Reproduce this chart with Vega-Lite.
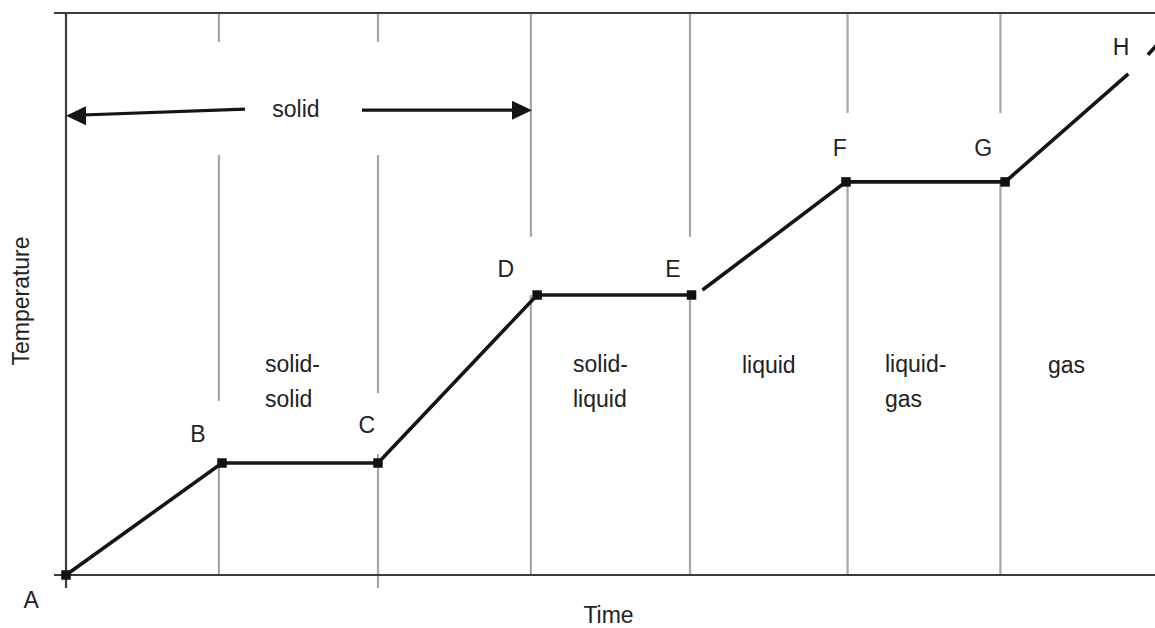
{
  "$schema": "https://vega.github.io/schema/vega-lite/v6.json",
  "width": 1101,
  "height": 575,
  "autosize": "none",
  "padding": {"left": 54, "top": 13, "right": 0, "bottom": 40},
  "background": "white",
  "config": {"view": {"stroke": null}, "font": "Liberation Sans"},
  "datasets": {
    "gray": [
      {"t": 0.98, "T": 100.36, "t2": 0.98, "T2": 95.2},
      {"t": 0.98, "T": 75.0, "t2": 0.98, "T2": 31.1},
      {"t": 0.98, "T": 20.0, "t2": 0.98, "T2": 0},
      {"t": 2.0, "T": 100.36, "t2": 2.0, "T2": 95.2},
      {"t": 2.0, "T": 75.0, "t2": 2.0, "T2": 32.5},
      {"t": 2.0, "T": 21.6, "t2": 2.0, "T2": -2.32},
      {"t": 2.98, "T": 100.36, "t2": 2.98, "T2": 60.4},
      {"t": 2.98, "T": 50.0, "t2": 2.98, "T2": 0},
      {"t": 4.0, "T": 100.36, "t2": 4.0, "T2": 60.4},
      {"t": 4.0, "T": 49.8, "t2": 4.0, "T2": 0},
      {"t": 5.01, "T": 100.36, "t2": 5.01, "T2": 82.5},
      {"t": 5.01, "T": 70.2, "t2": 5.01, "T2": 0},
      {"t": 5.99, "T": 100.36, "t2": 5.99, "T2": 82.5},
      {"t": 5.99, "T": 70.2, "t2": 5.99, "T2": 0}
    ],
    "frame": [
      {"t": 0, "T": 100.36, "t2": 0, "T2": -2.32},
      {"t": -0.077, "T": 100.36, "t2": 6.981, "T2": 100.36},
      {"t": -0.077, "T": 0, "t2": 6.981, "T2": 0}
    ],
    "shafts": [
      {"t": 1.147, "T": 83.2, "t2": 0.06, "T2": 82.1},
      {"t": 1.897, "T": 83.0, "t2": 2.87, "T2": 83.0}
    ],
    "heads": [
      {"t": 0.064, "T": 82.0, "dir": "left"},
      {"t": 2.923, "T": 83.0, "dir": "right"}
    ],
    "curve": [
      {"seg": 1, "t": 0, "T": 0},
      {"seg": 1, "t": 1.0, "T": 20},
      {"seg": 1, "t": 2.0, "T": 20},
      {"seg": 1, "t": 3.02, "T": 50},
      {"seg": 1, "t": 4.01, "T": 50},
      {"seg": 2, "t": 4.08, "T": 50.9},
      {"seg": 2, "t": 5.0, "T": 70.2},
      {"seg": 2, "t": 6.02, "T": 70.2},
      {"seg": 2, "t": 6.81, "T": 89.5},
      {"seg": 3, "t": 6.936, "T": 92.9},
      {"seg": 3, "t": 7.02, "T": 95.5}
    ],
    "vertices": [
      {"t": 0, "T": 0},
      {"t": 1.0, "T": 20},
      {"t": 2.0, "T": 20},
      {"t": 3.02, "T": 50},
      {"t": 4.01, "T": 50},
      {"t": 5.0, "T": 70.2},
      {"t": 6.02, "T": 70.2}
    ],
    "phases": [
      {"t": 1.276, "T": 36.25, "label": "solid-\nsolid"},
      {"t": 3.25, "T": 36.25, "label": "solid-\nliquid"},
      {"t": 4.333, "T": 36.07, "label": "liquid"},
      {"t": 5.25, "T": 36.25, "label": "liquid-\ngas"},
      {"t": 6.295, "T": 36.1, "label": "gas"}
    ],
    "centered": [
      {"t": 1.474, "T": 81.8, "label": "solid"},
      {"t": -0.224, "T": -5.9, "label": "A"},
      {"t": 0.846, "T": 23.75, "label": "B"},
      {"t": 1.929, "T": 25.36, "label": "C"},
      {"t": 2.82, "T": 53.2, "label": "D"},
      {"t": 3.89, "T": 53.2, "label": "E"},
      {"t": 4.96, "T": 74.8, "label": "F"},
      {"t": 5.88, "T": 74.8, "label": "G"},
      {"t": 6.763, "T": 92.9, "label": "H"}
    ]
  },
  "encoding": {
    "x": {
      "field": "t",
      "type": "quantitative",
      "scale": {"domain": [-0.077, 6.981], "nice": false, "zero": false},
      "axis": {
        "title": "Time",
        "domain": false,
        "ticks": false,
        "labels": false,
        "grid": false,
        "titleFont": "Liberation Sans",
        "titleFontSize": 23,
        "titleFontWeight": "normal",
        "titleColor": "#222222",
        "titleBaseline": "alphabetic",
        "titleX": 554,
        "titleY": 34
      }
    },
    "y": {
      "field": "T",
      "type": "quantitative",
      "scale": {"domain": [-2.32, 100.36], "nice": false, "zero": false},
      "axis": {
        "title": "Temperature",
        "domain": false,
        "ticks": false,
        "labels": false,
        "grid": false,
        "titleFont": "Liberation Sans",
        "titleFontSize": 23,
        "titleFontWeight": "normal",
        "titleColor": "#222222",
        "titleBaseline": "alphabetic",
        "titleX": -26,
        "titleY": 287.5
      }
    }
  },
  "layer": [
    {
      "data": {"name": "gray"},
      "mark": {"type": "rule", "color": "#a6a6a6", "strokeWidth": 2.2, "clip": false},
      "encoding": {"x2": {"field": "t2"}, "y2": {"field": "T2"}}
    },
    {
      "data": {"name": "frame"},
      "mark": {"type": "rule", "color": "#3c3c3c", "strokeWidth": 2.2, "clip": false},
      "encoding": {"x2": {"field": "t2"}, "y2": {"field": "T2"}}
    },
    {
      "data": {"name": "shafts"},
      "mark": {"type": "rule", "color": "#151515", "strokeWidth": 3.2, "clip": false},
      "encoding": {"x2": {"field": "t2"}, "y2": {"field": "T2"}}
    },
    {
      "data": {"name": "heads"},
      "mark": {"type": "point", "filled": true, "opacity": 1, "color": "#151515", "size": 400, "clip": false},
      "encoding": {
        "shape": {
          "field": "dir",
          "type": "nominal",
          "scale": {"domain": ["left", "right"], "range": ["M-1,0L1,-0.95L1,0.95Z", "M1,0L-1,-0.95L-1,0.95Z"]},
          "legend": null
        }
      }
    },
    {
      "data": {"name": "curve"},
      "mark": {"type": "line", "color": "#151515", "strokeWidth": 3.6, "clip": false},
      "encoding": {"detail": {"field": "seg", "type": "nominal"}}
    },
    {
      "data": {"name": "vertices"},
      "mark": {"type": "point", "shape": "square", "filled": true, "opacity": 1, "color": "#111111", "size": 90, "clip": false},
      "encoding": {}
    },
    {
      "data": {"name": "phases"},
      "mark": {"type": "text", "align": "left", "baseline": "alphabetic", "font": "Liberation Sans", "fontSize": 23, "lineHeight": 35, "lineBreak": "\n", "color": "#222222", "clip": false},
      "encoding": {"text": {"field": "label", "type": "nominal"}}
    },
    {
      "data": {"name": "centered"},
      "mark": {"type": "text", "align": "center", "baseline": "alphabetic", "font": "Liberation Sans", "fontSize": 23, "color": "#222222", "clip": false},
      "encoding": {"text": {"field": "label", "type": "nominal"}}
    }
  ]
}
